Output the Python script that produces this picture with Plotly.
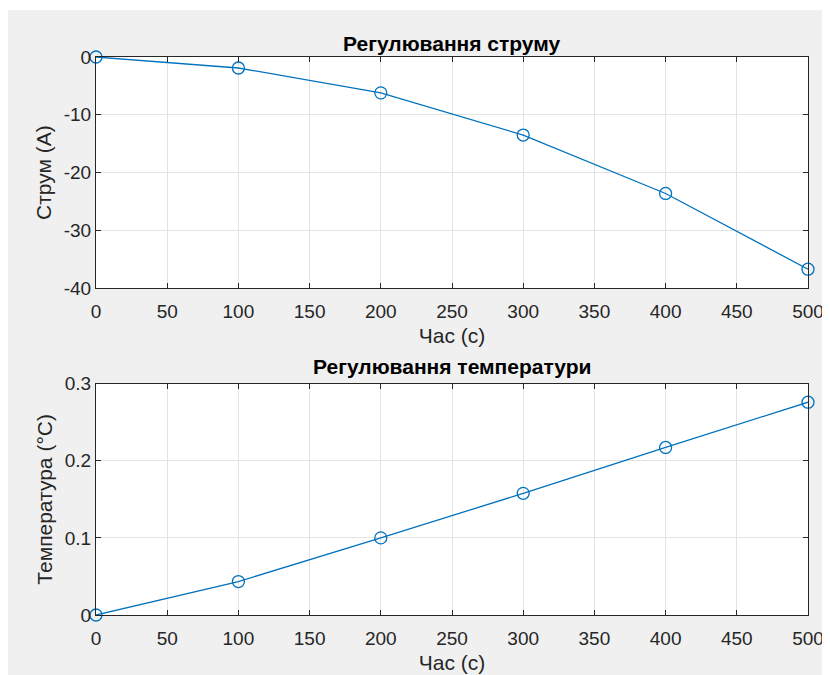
import plotly.graph_objects as go

time_s = [0, 100, 200, 300, 400, 500]
current_a = [0, -1.9, -6.2, -13.5, -23.6, -36.7]
temp_c = [0, 0.0434, 0.1, 0.1578, 0.2173, 0.276]

x_ticks = [0, 50, 100, 150, 200, 250, 300, 350, 400, 450, 500]
y1_ticks = [-40, -30, -20, -10, 0]
y1_labels = ["-40", "-30", "-20", "-10", "0"]
y2_ticks = [0, 0.1, 0.2, 0.3]
y2_labels = ["0", "0.1", "0.2", "0.3"]

title1 = "Регулювання струму"
title2 = "Регулювання температури"
xlabel = "Час (с)"
ylabel1 = "Струм (А)"
ylabel2 = "Температура (°C)"

BLUE = "#0072BD"
AX = "#262626"
GRID = "#e3e3e3"
FONT = "Liberation Sans"

# page is drawn with an 8px body margin; positions below are figure coordinates
W, H = 830, 675
L, R, T, B = 88, 30, 49, 68
ph = H - T - B
pw = W - L - R


def yd(px):
    return 1 - (px - T) / ph


fig = go.Figure()
marker = dict(symbol="circle-open", size=12, color=BLUE, line=dict(width=1.3, color=BLUE))
fig.add_trace(go.Scatter(x=time_s, y=current_a, mode="lines+markers", line=dict(color=BLUE, width=1.3),
                         marker=marker, cliponaxis=False, xaxis="x", yaxis="y", showlegend=False))
fig.add_trace(go.Scatter(x=time_s, y=temp_c, mode="lines+markers", line=dict(color=BLUE, width=1.3),
                         marker=marker, cliponaxis=False, xaxis="x2", yaxis="y2", showlegend=False))

TICKF = dict(family=FONT, size=19, color=AX)
LABF = dict(family=FONT, size=21, color=AX)

axcommon = dict(showline=True, linecolor=AX, linewidth=1, mirror="ticks", ticks="inside", ticklen=5,
                tickcolor=AX, tickwidth=1, showgrid=True, gridcolor=GRID, gridwidth=1, zeroline=False,
                tickfont=TICKF)

fig.update_layout(
    width=W, height=H,
    margin=dict(l=L, r=R, t=T, b=B),
    paper_bgcolor="#f0f0f0", plot_bgcolor="white",
    font=dict(family=FONT, color=AX),
    xaxis=dict(domain=[0, 1], anchor="y", range=[0, 500], tickvals=x_ticks, ticklabelstandoff=6,
               title=dict(text=xlabel, font=LABF, standoff=7), **axcommon),
    yaxis=dict(domain=[yd(280.3), 1], anchor="x", range=[-40, 0], tickvals=y1_ticks, ticktext=y1_labels,
               title=dict(text=ylabel1, font=LABF, standoff=6), **axcommon),
    xaxis2=dict(domain=[0, 1], anchor="y2", range=[0, 500], tickvals=x_ticks, ticklabelstandoff=6,
                title=dict(text=xlabel, font=LABF, standoff=7), **axcommon),
    yaxis2=dict(domain=[0, yd(375.7)], anchor="x2", range=[0, 0.3], tickvals=y2_ticks, ticktext=y2_labels,
                title=dict(text=ylabel2, font=LABF, standoff=6), **axcommon),
    annotations=[
        dict(text="<b>" + title1 + "</b>", x=0.5, y=yd(36), xref="paper", yref="paper", xanchor="center",
             yanchor="middle", showarrow=False, font=dict(family=FONT, size=21, color="black")),
        dict(text="<b>" + title2 + "</b>", x=0.5, y=yd(358), xref="paper", yref="paper", xanchor="center",
             yanchor="middle", showarrow=False, font=dict(family=FONT, size=21, color="black")),
    ],
    shapes=[
        dict(type="rect", xref="paper", yref="paper", x0=-L / pw, x1=(W - L) / pw,
             y0=yd(2), y1=yd(0), fillcolor="white", line=dict(width=0), layer="below"),
    ],
)

fig.write_html("out.html", post_script="document.body.style.overflow='hidden';")
